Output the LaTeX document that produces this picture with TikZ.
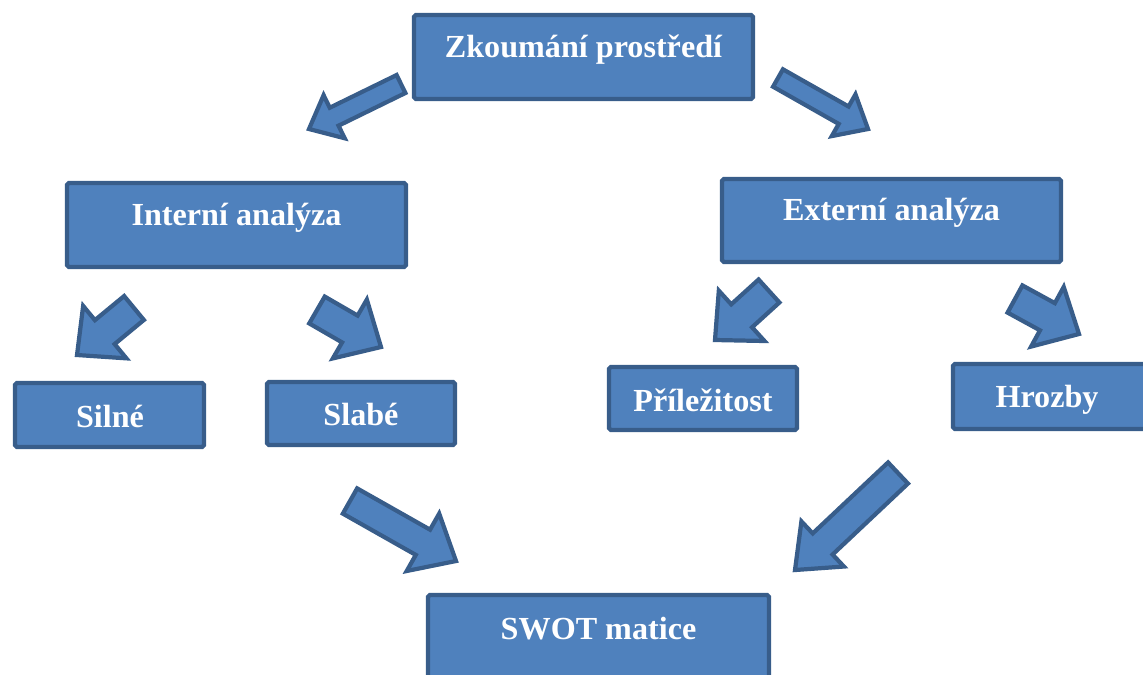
\documentclass[tikz,border=0pt]{standalone}
\usepackage{fontspec}
\setmainfont{Liberation Serif}
\usetikzlibrary{calc}

\definecolor{boxfill}{HTML}{4F81BD}
\definecolor{boxline}{HTML}{385D8A}
\def\px{0.569pt}

\tikzset{
  box/.style={draw=boxline, fill=boxfill, line width=2.4pt, rounded corners=1pt, inner sep=0pt},
  boxtext/.style={text=white, inner sep=0pt, font=\fontsize{18.3}{22}\selectfont\bfseries},
  arrowbody/.style={draw=boxline, fill=boxfill, line width=2.4pt, line join=miter},
}

% block arrow: tail, tip, shaft width, head width, head length (in px)
\newcommand{\blockarrow}[5]{%
  \coordinate (neck) at ($(#2)!#5*\px!(#1)$);
  \draw[arrowbody] ($(#1)!#3/2*\px!90:(#2)$) -- ($(neck)!#3/2*\px!90:(#2)$)
    -- ($(neck)!#4/2*\px!90:(#2)$) -- (#2) -- ($(neck)!#4/2*\px!-90:(#2)$)
    -- ($(neck)!#3/2*\px!-90:(#2)$) -- ($(#1)!#3/2*\px!-90:(#2)$) -- cycle;
}

\begin{document}
\begin{tikzpicture}[x=0.02cm, y=-0.02cm]
  \useasboundingbox (0,0) rectangle (1143,674);
  \clip (0,0) rectangle (1143,674);

  % boxes
  \node[box, minimum width=339*\px, minimum height=84*\px] (zp) at (583.5,57) {};
  \node[box, minimum width=339*\px, minimum height=84*\px] (ia) at (236.5,225) {};
  \node[box, minimum width=339*\px, minimum height=83*\px] (ea) at (891.5,220.5) {};
  \node[box, minimum width=189*\px, minimum height=64*\px] (si) at (109.5,415) {};
  \node[box, minimum width=188*\px, minimum height=63*\px] (sl) at (361,413.5) {};
  \node[box, minimum width=188*\px, minimum height=63*\px] (pr) at (703,398.5) {};
  \node[box, minimum width=197*\px, minimum height=65*\px] (hr) at (1051.5,396.5) {};
  \node[box, minimum width=341*\px, minimum height=90*\px] (sw) at (598.5,640) {};

  % labels
  \node[boxtext] (zpl) at (583.5,50) {Zkoumání prostředí};
  \node[boxtext] (ial) at (236.5,218) {Interní analýza};
  \node[boxtext] (eal) at (891.5,213) {Externí analýza};
  \node[boxtext] (sil) at (110,416) {Silné};
  \node[boxtext] (sll) at (361,414) {Slabé};
  \node[boxtext] (prl) at (703,400) {Příležitost};
  \node[boxtext] (hrl) at (1047,400) {Hrozby};
  \node[boxtext] (swl) at (598.5,629) {SWOT matice};

  % arrows
  \coordinate (T1) at (401,84);   \coordinate (H1) at (309,129);
  \coordinate (T2) at (778,78);   \coordinate (H2) at (868,129);
  \coordinate (T3) at (134,308);  \coordinate (H3) at (77,355);
  \coordinate (T4) at (317,310);  \coordinate (H4) at (381,347);
  \coordinate (T5) at (769,291);  \coordinate (H5) at (715,340);
  \coordinate (T6) at (1015,299); \coordinate (H6) at (1079,334);
  \coordinate (T7) at (350,501);  \coordinate (H7) at (456,561);
  \coordinate (T8) at (898,473);  \coordinate (H8) at (795,570);

  \blockarrow{T1}{H1}{20}{48}{28}
  \blockarrow{T2}{H2}{20}{48}{28}
  \blockarrow{T3}{H3}{31}{68}{36}
  \blockarrow{T4}{H4}{31}{68}{36}
  \blockarrow{T5}{H5}{31}{68}{36}
  \blockarrow{T6}{H6}{31}{68}{36}
  \blockarrow{T7}{H7}{29}{66}{38}
  \blockarrow{T8}{H8}{29}{62}{38}
\end{tikzpicture}
\end{document}
